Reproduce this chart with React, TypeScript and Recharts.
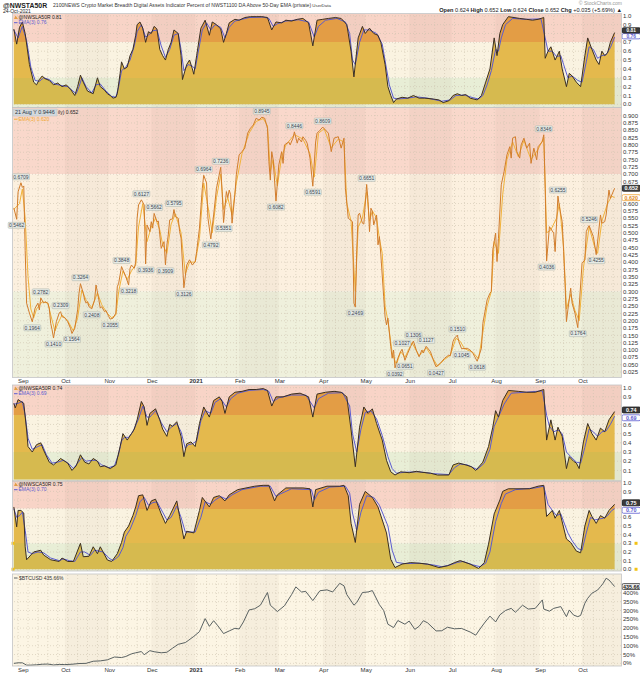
// App.tsx
import {
  ComposedChart,
  Area,
  Line,
  Scatter,
  XAxis,
  YAxis,
  ReferenceArea,
  ReferenceLine,
  ReferenceDot,
} from "recharts";

type Pt = [number, number];

const FONT = "'Liberation Sans', Arial, sans-serif";
// x values are days counted from 1 Sep 2020
const X_DOMAIN: [number, number] = [-6.6, 422.5];

const monthTicks: [string, number][] = [
  ["Sep", 0], ["Oct", 30], ["Nov", 61], ["Dec", 91], ["2021", 122], ["Feb", 153],
  ["Mar", 181], ["Apr", 212], ["May", 242], ["Jun", 273], ["Jul", 303],
  ["Aug", 334], ["Sep", 365], ["Oct", 395],
];

const breadthTicks = [0, 0.1, 0.2, 0.3, 0.4, 0.5, 0.6, 0.7, 0.8, 0.9, 1.0];
const taTicks = [
  0.025, 0.05, 0.075, 0.1, 0.125, 0.15, 0.175, 0.2, 0.225, 0.25, 0.275, 0.3,
  0.325, 0.35, 0.375, 0.4, 0.425, 0.45, 0.475, 0.5, 0.525, 0.55, 0.575, 0.6,
  0.625, 0.65, 0.675, 0.7, 0.725, 0.75, 0.775, 0.8, 0.825, 0.85, 0.875, 0.9,
];
const btcTicks = [0, 50, 100, 150, 200, 250, 300, 350, 400, 450];

// @NWSLA50R (top pane)
const la50: Pt[] = [
  [-6, 0.85], [-4, 0.68], [-2, 0.87], [0, 0.93], [2, 0.8], [5, 0.45], [8, 0.25], [10, 0.22],
  [12, 0.28], [14, 0.32], [16, 0.29], [19, 0.27], [22, 0.22], [25, 0.24], [28, 0.2], [31, 0.22],
  [34, 0.17], [37, 0.1], [39, 0.2], [41, 0.33], [43, 0.25], [46, 0.15], [50, 0.12], [53, 0.3],
  [55, 0.2], [58, 0.16], [60, 0.12], [62, 0.1], [64, 0.07], [66, 0.08], [67, 0.12], [69, 0.35],
  [70, 0.48], [72, 0.4], [74, 0.42], [76, 0.55], [78, 0.62], [80, 0.78], [81, 0.9], [83, 0.93],
  [85, 0.86], [87, 0.7], [89, 0.82], [91, 0.8], [93, 0.88], [95, 0.85], [97, 0.62], [99, 0.55],
  [101, 0.5], [103, 0.62], [105, 0.7], [107, 0.84], [110, 0.8], [112, 0.55], [113, 0.28],
  [116, 0.45], [118, 0.5], [120, 0.4], [121, 0.34], [123, 0.55], [126, 0.86], [129, 0.95],
  [132, 0.78], [134, 0.93], [137, 0.9], [140, 0.85], [142, 0.7], [144, 0.8], [146, 0.92],
  [150, 0.96], [153, 0.95], [157, 0.98], [161, 0.99], [165, 0.99], [169, 0.99], [173, 0.98],
  [176, 0.84], [179, 0.93], [183, 0.92], [186, 0.95], [190, 0.94], [194, 0.96], [198, 0.97],
  [202, 0.92], [205, 0.66], [208, 0.95], [212, 0.96], [216, 0.97], [221, 0.98], [225, 0.97],
  [229, 0.9], [232, 0.6], [234, 0.31], [237, 0.75], [240, 0.88], [242, 0.8], [245, 0.86],
  [248, 0.8], [251, 0.78], [253, 0.7], [256, 0.45], [258, 0.2], [260, 0.1], [262, 0.02],
  [264, 0.06], [268, 0.08], [272, 0.07], [276, 0.1], [280, 0.07], [284, 0.07], [290, 0.06],
  [294, 0.05], [297, 0.02], [301, 0.04], [304, 0.1], [307, 0.12], [310, 0.1], [313, 0.11],
  [316, 0.07], [321, 0.05], [324, 0.1], [327, 0.25], [330, 0.4], [333, 0.75], [335, 0.55],
  [337, 0.8], [339, 0.9], [343, 0.99], [347, 0.98], [351, 0.97], [356, 0.96], [360, 0.95],
  [364, 0.96], [368, 0.98], [369, 0.52], [371, 0.6], [373, 0.65], [376, 0.5], [379, 0.6],
  [381, 0.4], [384, 0.2], [386, 0.35], [388, 0.32], [391, 0.25], [394, 0.2], [397, 0.55],
  [399, 0.75], [402, 0.62], [405, 0.5], [407, 0.45], [409, 0.6], [411, 0.55], [413, 0.58],
  [415, 0.7], [418, 0.81],
];
const la50Ema: Pt[] = [
  [-6, 0.84], [-3, 0.75], [0, 0.88], [3, 0.72], [6, 0.42], [9, 0.27], [12, 0.26], [15, 0.3],
  [19, 0.28], [23, 0.23], [28, 0.21], [32, 0.2], [35, 0.16], [38, 0.12], [40, 0.2], [42, 0.3],
  [45, 0.2], [49, 0.13], [52, 0.22], [55, 0.23], [59, 0.15], [63, 0.09], [66, 0.08], [68, 0.2],
  [70, 0.38], [73, 0.42], [76, 0.5], [79, 0.66], [81, 0.82], [84, 0.9], [87, 0.76], [89, 0.78],
  [92, 0.83], [95, 0.84], [98, 0.66], [101, 0.53], [104, 0.62], [107, 0.78], [110, 0.8],
  [112, 0.62], [114, 0.38], [117, 0.45], [120, 0.43], [122, 0.4], [124, 0.58], [127, 0.84],
  [130, 0.92], [133, 0.84], [136, 0.9], [140, 0.87], [143, 0.75], [146, 0.87], [150, 0.94],
  [155, 0.96], [160, 0.98], [170, 0.985], [174, 0.97], [177, 0.88], [180, 0.91], [186, 0.94],
  [195, 0.955], [202, 0.93], [206, 0.76], [209, 0.88], [214, 0.95], [222, 0.97], [228, 0.93],
  [231, 0.8], [233, 0.5], [235, 0.45], [238, 0.7], [241, 0.84], [245, 0.84], [250, 0.8],
  [254, 0.68], [257, 0.4], [259, 0.22], [262, 0.07], [265, 0.06], [272, 0.07], [278, 0.085],
  [286, 0.07], [296, 0.035], [302, 0.05], [306, 0.1], [312, 0.105], [318, 0.075], [322, 0.06],
  [325, 0.1], [328, 0.22], [331, 0.38], [334, 0.62], [336, 0.6], [338, 0.75], [341, 0.9],
  [346, 0.97], [355, 0.96], [366, 0.965], [369, 0.75], [371, 0.6], [374, 0.6], [377, 0.54],
  [380, 0.55], [382, 0.45], [385, 0.3], [388, 0.32], [392, 0.27], [395, 0.25], [398, 0.48],
  [400, 0.65], [403, 0.62], [406, 0.52], [409, 0.55], [412, 0.56], [415, 0.64], [418, 0.76],
];

// @NWSTA50R (main pane)
const ta50: Pt[] = [
  [-6, 0.585], [-4, 0.5462], [-3, 0.64], [-1, 0.6709], [0, 0.655], [1, 0.66], [2, 0.44],
  [3, 0.26], [5, 0.226], [7, 0.1964], [9, 0.243], [11, 0.26], [12, 0.237], [13, 0.2782],
  [15, 0.26], [16, 0.265], [18, 0.26], [19, 0.243], [20, 0.191], [21, 0.169], [22, 0.141],
  [24, 0.197], [26, 0.226], [27, 0.2309], [28, 0.214], [30, 0.21], [31, 0.203], [32, 0.197],
  [34, 0.174], [35, 0.1564], [37, 0.174], [39, 0.237], [40, 0.294], [41, 0.3264], [43, 0.294],
  [44, 0.271], [45, 0.26], [46, 0.265], [47, 0.248], [49, 0.2408], [51, 0.271], [52, 0.322],
  [54, 0.271], [55, 0.243], [56, 0.248], [58, 0.231], [59, 0.235], [61, 0.214], [62, 0.2055],
  [64, 0.209], [66, 0.226], [67, 0.316], [68, 0.328], [70, 0.3848], [71, 0.373], [73, 0.351],
  [75, 0.3218], [76, 0.379], [77, 0.39], [79, 0.379], [80, 0.4], [81, 0.55], [82, 0.595],
  [84, 0.6127], [86, 0.595], [87, 0.3936], [88, 0.527], [90, 0.504], [91, 0.538], [92, 0.516],
  [93, 0.5662], [95, 0.538], [96, 0.54], [97, 0.493], [98, 0.447], [100, 0.47], [101, 0.3909],
  [102, 0.459], [103, 0.493], [104, 0.544], [106, 0.548], [107, 0.5795], [108, 0.555],
  [110, 0.55], [111, 0.504], [112, 0.482], [114, 0.3126], [116, 0.39], [118, 0.408],
  [120, 0.39], [122, 0.402], [123, 0.436], [125, 0.516], [127, 0.652], [128, 0.6964],
  [130, 0.67], [131, 0.55], [133, 0.4792], [135, 0.561], [137, 0.652], [140, 0.7236],
  [141, 0.641], [142, 0.5351], [144, 0.641], [145, 0.62], [146, 0.646], [147, 0.63],
  [148, 0.533], [150, 0.63], [151, 0.698], [153, 0.766], [155, 0.777], [157, 0.789],
  [159, 0.84], [161, 0.857], [163, 0.868], [165, 0.891], [167, 0.885], [169, 0.8945],
  [171, 0.891], [173, 0.857], [174, 0.743], [175, 0.68], [176, 0.777], [177, 0.75],
  [179, 0.6082], [181, 0.732], [183, 0.777], [184, 0.737], [185, 0.8], [188, 0.81], [189, 0.8],
  [191, 0.823], [192, 0.8446], [194, 0.806], [195, 0.823], [197, 0.81], [198, 0.828],
  [200, 0.815], [201, 0.806], [203, 0.755], [205, 0.6591], [207, 0.81], [208, 0.84], [210, 0.85],
  [212, 0.8609], [216, 0.84], [218, 0.777], [220, 0.823], [223, 0.828], [225, 0.789],
  [227, 0.823], [228, 0.652], [230, 0.55], [233, 0.538], [234, 0.26], [235, 0.2469], [236, 0.44],
  [237, 0.561], [238, 0.567], [240, 0.533], [241, 0.53], [243, 0.6651], [244, 0.607],
  [245, 0.504], [246, 0.584], [247, 0.574], [248, 0.527], [250, 0.561], [251, 0.459],
  [252, 0.487], [253, 0.425], [255, 0.282], [256, 0.214], [257, 0.186], [258, 0.209],
  [260, 0.112], [261, 0.072], [262, 0.1], [263, 0.0392], [265, 0.072], [267, 0.095],
  [268, 0.1027], [270, 0.0651], [272, 0.089], [274, 0.112], [276, 0.1306], [278, 0.1],
  [280, 0.077], [282, 0.1], [283, 0.09], [285, 0.1127], [288, 0.095], [290, 0.066],
  [292, 0.0427], [295, 0.055], [298, 0.072], [301, 0.083], [302, 0.08], [304, 0.13], [305, 0.14],
  [307, 0.151], [308, 0.13], [310, 0.1045], [314, 0.106], [316, 0.1], [318, 0.089],
  [321, 0.0618], [324, 0.106], [325, 0.191], [328, 0.271], [330, 0.294], [331, 0.3], [332, 0.442],
  [334, 0.499], [335, 0.402], [336, 0.48], [338, 0.664], [340, 0.709], [342, 0.766],
  [344, 0.794], [345, 0.755], [346, 0.823], [348, 0.828], [349, 0.777], [351, 0.755], [352, 0.8],
  [354, 0.823], [356, 0.789], [358, 0.806], [359, 0.737], [361, 0.789], [363, 0.749],
  [364, 0.794], [367, 0.811], [368, 0.8346], [369, 0.652], [370, 0.4036], [372, 0.521],
  [375, 0.499], [376, 0.436], [378, 0.6255], [379, 0.59], [381, 0.538], [382, 0.436],
  [383, 0.328], [384, 0.197], [385, 0.237], [387, 0.311], [388, 0.26], [390, 0.226],
  [392, 0.1764], [395, 0.396], [397, 0.408], [398, 0.504], [399, 0.516], [400, 0.5246],
  [403, 0.487], [405, 0.4255], [408, 0.561], [409, 0.533], [411, 0.538], [412, 0.561],
  [414, 0.646], [415, 0.618], [418, 0.652],
];
const ta50Ema: Pt[] = [
  [-6, 0.58], [-2, 0.6], [0, 0.65], [2, 0.55], [4, 0.35], [6, 0.24], [8, 0.21], [10, 0.24],
  [14, 0.265], [18, 0.26], [20, 0.22], [23, 0.165], [25, 0.19], [28, 0.22], [32, 0.2],
  [36, 0.165], [39, 0.21], [42, 0.305], [45, 0.27], [49, 0.245], [53, 0.295], [56, 0.255],
  [60, 0.225], [63, 0.21], [66, 0.22], [68, 0.3], [71, 0.37], [74, 0.34], [77, 0.37], [80, 0.39],
  [82, 0.52], [85, 0.6], [88, 0.47], [91, 0.52], [94, 0.55], [97, 0.51], [99, 0.46], [102, 0.43],
  [105, 0.53], [108, 0.565], [112, 0.5], [115, 0.36], [118, 0.4], [122, 0.4], [125, 0.48],
  [128, 0.67], [131, 0.59], [134, 0.5], [137, 0.62], [140, 0.7], [142, 0.58], [145, 0.62],
  [148, 0.56], [151, 0.67], [155, 0.77], [160, 0.84], [165, 0.88], [170, 0.89], [173, 0.865],
  [175, 0.71], [177, 0.75], [180, 0.66], [183, 0.76], [186, 0.8], [192, 0.835], [198, 0.82],
  [203, 0.77], [206, 0.69], [209, 0.84], [213, 0.855], [218, 0.79], [223, 0.82], [227, 0.81],
  [229, 0.6], [232, 0.54], [235, 0.3], [237, 0.52], [240, 0.55], [243, 0.64], [245, 0.54],
  [247, 0.575], [250, 0.55], [252, 0.48], [254, 0.43], [256, 0.25], [258, 0.2], [261, 0.09],
  [264, 0.05], [267, 0.095], [270, 0.075], [275, 0.125], [280, 0.08], [285, 0.108], [290, 0.07],
  [293, 0.045], [298, 0.068], [302, 0.082], [306, 0.14], [309, 0.13], [312, 0.105],
  [318, 0.092], [322, 0.07], [325, 0.16], [328, 0.25], [331, 0.3], [333, 0.47], [336, 0.43],
  [339, 0.63], [342, 0.75], [346, 0.81], [350, 0.76], [354, 0.815], [359, 0.75], [364, 0.785],
  [368, 0.825], [370, 0.5], [373, 0.51], [377, 0.55], [379, 0.6], [382, 0.45], [384, 0.24],
  [387, 0.29], [390, 0.235], [393, 0.2], [396, 0.38], [400, 0.52], [404, 0.45], [406, 0.43],
  [409, 0.54], [413, 0.6], [416, 0.625], [418, 0.62],
];
// annotated peaks (1) and troughs (-1)
const ta50Marks: [number, number, number][] = [
  [-1, 0.6709, 1], [-4, 0.5462, -1], [13, 0.2782, 1], [7, 0.1964, -1], [27, 0.2309, 1],
  [22, 0.141, -1], [35, 0.1564, -1], [41, 0.3264, 1], [49, 0.2408, -1], [62, 0.2055, -1],
  [70, 0.3848, 1], [75, 0.3218, -1], [84, 0.6127, 1], [87, 0.3936, -1], [93, 0.5662, 1],
  [101, 0.3909, -1], [107, 0.5795, 1], [114, 0.3126, -1], [128, 0.6964, 1], [133, 0.4792, -1],
  [140, 0.7236, 1], [142, 0.5351, -1], [169, 0.8945, 1], [179, 0.6082, -1], [192, 0.8446, 1],
  [205, 0.6591, -1], [212, 0.8609, 1], [235, 0.2469, -1], [243, 0.6651, 1], [263, 0.0392, -1],
  [268, 0.1027, 1], [270, 0.0651, -1], [276, 0.1306, 1], [285, 0.1127, 1], [292, 0.0427, -1],
  [307, 0.151, 1], [310, 0.1045, -1], [321, 0.0618, -1], [368, 0.8346, 1], [370, 0.4036, -1],
  [378, 0.6255, 1], [392, 0.1764, -1], [400, 0.5246, 1], [405, 0.4255, -1],
];

// @NWSEA50R
const ea50: Pt[] = [
  [-6, 0.83], [-5, 0.78], [-3, 0.87], [-1, 0.85], [1, 0.83], [3, 0.54], [4, 0.36], [7, 0.3],
  [10, 0.38], [13, 0.4], [15, 0.32], [19, 0.19], [22, 0.16], [25, 0.2], [27, 0.23], [30, 0.2],
  [32, 0.18], [35, 0.1], [38, 0.15], [41, 0.27], [44, 0.19], [47, 0.17], [50, 0.23], [53, 0.2],
  [55, 0.14], [58, 0.15], [62, 0.12], [66, 0.16], [69, 0.36], [71, 0.5], [74, 0.43], [77, 0.5],
  [79, 0.55], [81, 0.65], [84, 0.85], [86, 0.79], [88, 0.59], [90, 0.72], [94, 0.77], [97, 0.65],
  [99, 0.55], [102, 0.47], [104, 0.6], [106, 0.58], [109, 0.63], [112, 0.47], [114, 0.25],
  [116, 0.39], [119, 0.41], [122, 0.36], [125, 0.61], [128, 0.79], [132, 0.68], [135, 0.86],
  [139, 0.9], [141, 0.85], [143, 0.72], [146, 0.9], [150, 0.95], [155, 0.96], [160, 0.98],
  [165, 0.98], [170, 0.99], [173, 0.97], [176, 0.8], [179, 0.9], [184, 0.9], [190, 0.93],
  [196, 0.94], [202, 0.9], [205, 0.68], [208, 0.93], [214, 0.95], [220, 0.96], [225, 0.95],
  [229, 0.9], [232, 0.54], [235, 0.14], [238, 0.57], [241, 0.79], [244, 0.72], [247, 0.77],
  [250, 0.61], [254, 0.43], [257, 0.21], [260, 0.085], [263, 0.05], [267, 0.085], [273, 0.075],
  [278, 0.09], [282, 0.08], [288, 0.07], [293, 0.05], [301, 0.05], [304, 0.16], [308, 0.18],
  [313, 0.16], [317, 0.14], [320, 0.1], [325, 0.19], [329, 0.36], [332, 0.57], [334, 0.75],
  [336, 0.68], [339, 0.86], [343, 0.97], [350, 0.96], [356, 0.95], [362, 0.95], [368, 0.98],
  [370, 0.43], [373, 0.65], [376, 0.43], [378, 0.57], [381, 0.47], [384, 0.12], [386, 0.25],
  [389, 0.2], [391, 0.18], [393, 0.12], [396, 0.41], [399, 0.61], [402, 0.5], [405, 0.43],
  [408, 0.56], [411, 0.52], [414, 0.65], [418, 0.74],
];
const ea50Ema: Pt[] = [
  [-6, 0.82], [-3, 0.83], [0, 0.85], [2, 0.7], [4, 0.45], [7, 0.33], [11, 0.36], [14, 0.38],
  [17, 0.27], [21, 0.18], [25, 0.19], [29, 0.21], [33, 0.17], [36, 0.12], [39, 0.18], [42, 0.24],
  [45, 0.2], [49, 0.21], [52, 0.21], [56, 0.16], [61, 0.13], [65, 0.15], [68, 0.28], [70, 0.42],
  [72, 0.46], [75, 0.46], [78, 0.52], [82, 0.66], [85, 0.8], [88, 0.68], [90, 0.68], [94, 0.75],
  [98, 0.62], [102, 0.52], [105, 0.57], [109, 0.61], [112, 0.52], [115, 0.34], [117, 0.38],
  [120, 0.39], [123, 0.42], [126, 0.64], [129, 0.75], [133, 0.72], [136, 0.84], [140, 0.88],
  [144, 0.79], [147, 0.88], [152, 0.94], [160, 0.97], [170, 0.98], [174, 0.96], [177, 0.85],
  [181, 0.89], [190, 0.92], [200, 0.92], [206, 0.78], [209, 0.88], [216, 0.94], [226, 0.945],
  [231, 0.8], [233, 0.5], [236, 0.3], [239, 0.55], [242, 0.73], [246, 0.75], [250, 0.66],
  [254, 0.48], [258, 0.25], [261, 0.12], [264, 0.07], [270, 0.08], [280, 0.085], [290, 0.065],
  [301, 0.055], [305, 0.13], [309, 0.17], [314, 0.16], [321, 0.11], [326, 0.18], [330, 0.33],
  [333, 0.58], [336, 0.68], [340, 0.82], [345, 0.94], [355, 0.95], [367, 0.965], [370, 0.7],
  [372, 0.58], [375, 0.52], [378, 0.54], [381, 0.5], [384, 0.3], [387, 0.25], [391, 0.19],
  [394, 0.18], [397, 0.35], [400, 0.55], [403, 0.52], [406, 0.47], [409, 0.52], [412, 0.53],
  [415, 0.6], [418, 0.69],
];

// @NWSCA50R
const ca50: Pt[] = [
  [-6, 0.72], [-4, 0.49], [-3, 0.68], [-1, 0.68], [1, 0.65], [2, 0.26], [3, 0.11], [6, 0.165],
  [8, 0.2], [13, 0.22], [15, 0.165], [20, 0.11], [26, 0.09], [28, 0.13], [32, 0.09], [36, 0.09],
  [41, 0.3], [43, 0.145], [47, 0.15], [50, 0.26], [53, 0.18], [55, 0.26], [60, 0.107], [63, 0.09],
  [67, 0.18], [70, 0.31], [72, 0.43], [75, 0.5], [78, 0.62], [80, 0.72], [82, 0.85], [85, 0.86],
  [88, 0.68], [91, 0.79], [94, 0.81], [98, 0.64], [101, 0.53], [104, 0.62], [109, 0.79],
  [111, 0.61], [114, 0.35], [116, 0.44], [121, 0.42], [125, 0.68], [127, 0.83], [132, 0.72],
  [135, 0.83], [139, 0.85], [143, 0.79], [146, 0.86], [152, 0.92], [164, 0.96], [170, 0.97],
  [174, 0.97], [178, 0.79], [180, 0.86], [186, 0.94], [198, 0.94], [203, 0.93], [205, 0.72],
  [207, 0.92], [215, 0.96], [224, 0.96], [227, 0.97], [230, 0.85], [232, 0.53], [235, 0.31],
  [238, 0.75], [242, 0.9], [247, 0.83], [251, 0.72], [257, 0.42], [260, 0.115], [263, 0.02],
  [268, 0.06], [274, 0.077], [280, 0.07], [286, 0.06], [294, 0.02], [300, 0.04], [305, 0.077],
  [309, 0.1], [316, 0.06], [322, 0.01], [326, 0.077], [329, 0.29], [333, 0.64], [337, 0.8],
  [339, 0.9], [343, 0.93], [358, 0.93], [364, 0.96], [368, 0.97], [370, 0.61], [374, 0.68],
  [376, 0.59], [379, 0.68], [384, 0.35], [387, 0.31], [391, 0.21], [394, 0.19], [397, 0.5],
  [400, 0.68], [402, 0.61], [405, 0.53], [408, 0.62], [411, 0.59], [414, 0.68], [418, 0.75],
];
const ca50Ema: Pt[] = [
  [-6, 0.7], [-4, 0.6], [-2, 0.62], [0, 0.66], [2, 0.45], [4, 0.2], [7, 0.18], [11, 0.2],
  [15, 0.19], [20, 0.13], [26, 0.1], [29, 0.12], [33, 0.1], [37, 0.09], [41, 0.2], [44, 0.2],
  [48, 0.16], [51, 0.22], [54, 0.21], [57, 0.2], [61, 0.13], [64, 0.1], [68, 0.15], [71, 0.25],
  [73, 0.38], [76, 0.46], [80, 0.62], [83, 0.78], [86, 0.83], [89, 0.74], [92, 0.77], [95, 0.78],
  [99, 0.66], [102, 0.57], [105, 0.6], [109, 0.73], [112, 0.6], [115, 0.43], [118, 0.43],
  [122, 0.43], [126, 0.6], [129, 0.78], [133, 0.75], [136, 0.8], [140, 0.84], [144, 0.81],
  [148, 0.86], [155, 0.92], [168, 0.96], [175, 0.96], [179, 0.84], [182, 0.87], [190, 0.93],
  [204, 0.92], [206, 0.8], [209, 0.89], [217, 0.95], [228, 0.96], [231, 0.88], [233, 0.65],
  [236, 0.45], [239, 0.66], [243, 0.85], [248, 0.83], [252, 0.74], [258, 0.5], [261, 0.22],
  [264, 0.08], [270, 0.065], [280, 0.07], [290, 0.05], [296, 0.03], [302, 0.05], [307, 0.08],
  [311, 0.09], [318, 0.05], [323, 0.03], [327, 0.07], [330, 0.2], [334, 0.55], [338, 0.76],
  [341, 0.87], [348, 0.92], [362, 0.94], [368, 0.96], [371, 0.75], [374, 0.68], [377, 0.62],
  [380, 0.64], [385, 0.42], [388, 0.33], [392, 0.24], [395, 0.22], [398, 0.42], [401, 0.6],
  [404, 0.57], [407, 0.58], [410, 0.59], [413, 0.62], [416, 0.68], [418, 0.7],
];
const caAlerts = [0.3, 0.0];

// $BTCUSD, % change since start
const btcPct: Pt[] = [
  [-6, 0], [-3, 3], [0, 3], [3, -10], [6, -10], [10, -8], [14, -5], [18, -4], [22, -9], [26, -6],
  [30, -7], [35, -5], [40, -1], [45, 0], [50, 12], [55, 14], [60, 20], [65, 36], [70, 33],
  [73, 39], [77, 54], [80, 60], [84, 67], [86, 49], [90, 72], [93, 66], [98, 60], [102, 63],
  [106, 86], [110, 108], [115, 118], [117, 129], [121, 153], [125, 180], [129, 254], [132, 210],
  [135, 242], [138, 213], [142, 169], [146, 184], [150, 199], [153, 195], [156, 235], [160, 303],
  [164, 310], [168, 330], [173, 402], [175, 330], [180, 294], [185, 327], [190, 390], [193, 434],
  [197, 405], [200, 408], [205, 356], [210, 412], [215, 417], [219, 405], [224, 454], [227, 440],
  [229, 390], [234, 330], [236, 345], [240, 402], [244, 405], [247, 413], [252, 333], [255, 300],
  [258, 222], [262, 203], [265, 243], [270, 222], [273, 240], [277, 193], [280, 210], [283, 242],
  [286, 230], [292, 184], [296, 185], [300, 205], [305, 196], [310, 198], [316, 178], [320, 160],
  [323, 195], [326, 228], [330, 268], [334, 235], [337, 275], [341, 300], [345, 312], [348, 290],
  [353, 330], [357, 308], [362, 312], [367, 360], [368, 308], [372, 296], [375, 312], [378, 318],
  [380, 322], [382, 293], [384, 265], [386, 303], [389, 274], [392, 265], [394, 272], [397, 341],
  [399, 369], [402, 398], [404, 407], [406, 416], [408, 435], [410, 455], [412, 483], [414, 473],
  [416, 455], [418, 435.66],
];

const BANDS = { pink: "#f8d4c7", cream: "#faf3e1", green: "#e8eed6" };
const TA_BANDS = { pink: "#f9d8cb", cream: "#fcf0df", green: "#eff0dc" };
const TICK = { fontSize: 6, fill: "#333", fontFamily: FONT };

const monthLabel = new Map(monthTicks.map(([l, d]) => [d, l]));
const stripes: [number, number][] = monthTicks
  .map(([, d], i) => [d, i + 1 < monthTicks.length ? monthTicks[i + 1][1] : X_DOMAIN[1]] as [number, number])
  .filter((_, i) => i % 2 === 1);
const weekDays = Array.from({ length: 62 }, (_, i) => -3 + i * 7);

function merge(cols: Record<string, Pt[]>) {
  const rows = new Map<number, any>();
  for (const [key, pts] of Object.entries(cols)) {
    for (const [d, v] of pts) {
      const row = rows.get(d) ?? { d };
      row[key] = v;
      rows.set(d, row);
    }
  }
  return [...rows.values()].sort((a, b) => a.d - b.d);
}

// tick labels that sit under the last-value tags are left blank
const fmt = (digits: number, hidden: number[], suffix = "") => (v: number) =>
  hidden.some((h) => Math.abs(h - v) < 1e-6) ? "" : `${suffix ? v : v.toFixed(digits)}${suffix}`;

function backdrop(bands: [number, number, string][], hLines: number[]) {
  return [
    ...bands.map(([a, b, c], i) => (
      <ReferenceArea key={`b${i}`} x1={X_DOMAIN[0]} x2={X_DOMAIN[1]} y1={a} y2={b} fill={c}
        fillOpacity={1} stroke="none" ifOverflow="hidden" zIndex={-60} />
    )),
    ...stripes.map(([a, b], i) => (
      <ReferenceArea key={`s${i}`} x1={a} x2={b} fill="#6e5a3c" fillOpacity={0.045}
        stroke="none" ifOverflow="hidden" zIndex={-59} />
    )),
    ...weekDays.map((d) => (
      <ReferenceLine key={`v${d}`} x={d} stroke="#cdc2ae" strokeDasharray="1 2"
        strokeWidth={0.6} ifOverflow="hidden" zIndex={-58} />
    )),
    ...hLines.map((t) => (
      <ReferenceLine key={`h${t}`} y={t} stroke="#cdc2ae" strokeDasharray="1 2"
        strokeWidth={0.6} ifOverflow="hidden" zIndex={-58} />
    )),
  ];
}

// last-value tag on the right axis; dy nudges it off its neighbour
const tag = (text: string, fill: string, stroke: string, color: string, dy = 0, fs = 5.4) => (p: any) => (
  <g>
    <rect x={p.cx + 1} y={p.cy + dy - fs * 0.55} width={18.5} height={fs * 1.1} rx={1.5} fill={fill}
      stroke={stroke} strokeWidth={0.8} />
    <text x={p.cx + 10.2} y={p.cy + dy + fs * 0.36} textAnchor="middle" fontSize={fs} fontWeight="bold"
      fontFamily={FONT} fill={color}>{text}</text>
  </g>
);

const MonthTick = (p: any) => {
  const label = monthLabel.get(p.payload.value);
  return (
    <text x={p.x + 1} y={p.y + 6} textAnchor="middle" fontSize={6} fontFamily={FONT} fill="#333"
      fontWeight={label === "2021" ? "bold" : "normal"}>{label}</text>
  );
};

const MarkLabel = (p: any) => {
  const up = p.payload.a > 0;
  const yc = p.cy + (up ? -6 : 6);
  return (
    <g>
      <rect x={p.cx - 8.5} y={yc - 3} width={17} height={6} rx={0.8} fill="#e6eae4"
        stroke="#a9b0a8" strokeWidth={0.5} />
      <text x={p.cx} y={yc + 1.8} textAnchor="middle" fontSize={5} fontFamily={FONT}
        fill="#3a4450">{p.payload.v.toFixed(4)}</text>
    </g>
  );
};

function BreadthPanel(props: {
  id: string; top: number; height: number; domain: [number, number]; ticks: number[];
  hidden: number[]; tagDy: [number, number, number]; main: Pt[]; ema: Pt[]; alerts?: number[];
}) {
  const { id, top, height, domain, ticks, hidden, tagDy, main, ema, alerts } = props;
  const [lo, hi] = domain;
  const data = merge({ m: main, e: ema });
  const o7 = (hi - 0.7) / (hi - lo);
  const o3 = (hi - 0.3) / (hi - lo);
  const lastM = main[main.length - 1][1];
  const lastE = ema[ema.length - 1][1];
  const [dyM, dyE, fs] = tagDy;
  return (
    <div style={{ position: "absolute", left: 0, top }}>
      <ComposedChart width={640} height={height} data={data}
        margin={{ top: 0, right: 0, bottom: 0, left: 13 }}>
        <defs>
          <linearGradient id={id} gradientUnits="userSpaceOnUse" x1="0" y1="0" x2="0" y2={height}>
            <stop offset={o7} stopColor="#e39d45" />
            <stop offset={o7} stopColor="#e4b94d" />
            <stop offset={o3} stopColor="#e4b94d" />
            <stop offset={o3} stopColor="#d6ba4f" />
          </linearGradient>
        </defs>
        <XAxis type="number" dataKey="d" domain={X_DOMAIN} allowDataOverflow hide />
        <YAxis orientation="right" type="number" domain={domain} allowDataOverflow ticks={ticks}
          interval={0} width={19} tickSize={0} tickMargin={2} axisLine={false} tickLine={false}
          tick={TICK} tickFormatter={fmt(1, hidden)} />
        {backdrop([[0.7, hi, BANDS.pink], [0.3, 0.7, BANDS.cream], [lo, 0.3, BANDS.green]], ticks)}
        <Area type="linear" dataKey="m" fill={`url(#${id})`} fillOpacity={1} stroke="none"
          baseValue={0} connectNulls isAnimationActive={false} />
        <Line type="linear" dataKey="e" stroke="#5b5bd0" strokeWidth={1} dot={false}
          activeDot={false} connectNulls isAnimationActive={false} />
        <Line type="linear" dataKey="m" stroke="#3a2e22" strokeWidth={1} dot={false}
          activeDot={false} connectNulls isAnimationActive={false} />
        <ReferenceDot x={X_DOMAIN[1]} y={lastE} ifOverflow="visible" zIndex={3000}
          shape={tag(lastE.toFixed(2), "#fff", "#5b5bd0", "#5b5bd0", dyE, fs)} />
        <ReferenceDot x={X_DOMAIN[1]} y={lastM} ifOverflow="visible" zIndex={3001}
          shape={tag(lastM.toFixed(2), "#3a3a3a", "#222", "#fff", dyM, fs)} />
        {(alerts ?? []).flatMap((a) => [
          <ReferenceDot key={`l${a}`} x={X_DOMAIN[0]} y={a} ifOverflow="visible" zIndex={3000}
            shape={(p: any) => <rect x={p.cx - 1.5} y={p.cy - 1.5} width={3} height={3} fill="#f2c215" />} />,
          <ReferenceDot key={`r${a}`} x={X_DOMAIN[1] + 10.6} y={a} ifOverflow="visible" zIndex={3000}
            shape={(p: any) => <rect x={p.cx - 1.5} y={p.cy - 1.5} width={3} height={3} fill="#f2c215" />} />,
        ])}
      </ComposedChart>
    </div>
  );
}

function MainPanel() {
  const domain: [number, number] = [0.008, 0.926];
  const data = merge({ m: ta50, e: ta50Ema });
  const marks = ta50Marks.map(([d, v, a]) => ({ d, v, a }));
  const lastM = ta50[ta50.length - 1][1];
  const lastE = ta50Ema[ta50Ema.length - 1][1];
  return (
    <div style={{ position: "absolute", left: 0, top: 108 }}>
      <ComposedChart width={640} height={277} data={data}
        margin={{ top: 0, right: 0, bottom: 0, left: 13 }}>
        <XAxis type="number" dataKey="d" domain={X_DOMAIN}
          ticks={monthTicks.map(([, d]) => d)} interval={0} height={8} tickSize={0} tickMargin={0}
          axisLine={false} tickLine={false} tick={<MonthTick />} />
        <YAxis orientation="right" type="number" dataKey="v" domain={domain} allowDataOverflow
          ticks={taTicks} interval={0} width={19} tickSize={0} tickMargin={2} axisLine={false}
          tickLine={false} tick={TICK} tickFormatter={fmt(3, [0.625, 0.65])} />
        {backdrop([[0.7, 0.926, TA_BANDS.pink], [0.3, 0.7, TA_BANDS.cream], [0.008, 0.3, TA_BANDS.green]], taTicks)}
        <Line type="linear" dataKey="e" stroke="#f2b33a" strokeWidth={1} dot={false}
          activeDot={false} connectNulls isAnimationActive={false} />
        <Line type="linear" dataKey="m" stroke="#d27d2c" strokeWidth={1} dot={false}
          activeDot={false} connectNulls isAnimationActive={false} />
        <Scatter data={marks} dataKey="v" shape={<MarkLabel />} isAnimationActive={false} />
        <ReferenceDot x={X_DOMAIN[1]} y={lastE} ifOverflow="visible" zIndex={3000}
          shape={tag(lastE.toFixed(3), "#fff", "#f0a030", "#e08a20")} />
        <ReferenceDot x={X_DOMAIN[1]} y={lastM} ifOverflow="visible" zIndex={3001}
          shape={tag(lastM.toFixed(3), "#444", "#222", "#fff")} />
      </ComposedChart>
    </div>
  );
}

function BtcPanel() {
  const domain: [number, number] = [-15, 507];
  const data = merge({ b: btcPct });
  const last = btcPct[btcPct.length - 1][1];
  return (
    <div style={{ position: "absolute", left: 0, top: 574 }}>
      <ComposedChart width={640} height={102} data={data}
        margin={{ top: 0, right: 0, bottom: 0, left: 13 }}>
        <XAxis type="number" dataKey="d" domain={X_DOMAIN} allowDataOverflow
          ticks={monthTicks.map(([, d]) => d)} interval={0} height={10} tickSize={0} tickMargin={0}
          axisLine={false} tickLine={false} tick={<MonthTick />} />
        <YAxis orientation="right" type="number" domain={domain} allowDataOverflow ticks={btcTicks}
          interval={0} width={19} tickSize={0} tickMargin={2} axisLine={false} tickLine={false}
          tick={TICK} tickFormatter={fmt(0, [450], "%")} />
        {backdrop([[-15, 507, "#fcf5e4"]], btcTicks)}
        <Line type="linear" dataKey="b" stroke="#5a6262" strokeWidth={1} dot={false}
          activeDot={false} connectNulls isAnimationActive={false} />
        <ReferenceDot x={X_DOMAIN[1]} y={last} ifOverflow="visible" zIndex={3000}
          shape={tag(last.toFixed(2), "#eee", "#333", "#222")} />
      </ComposedChart>
    </div>
  );
}

function Legend({ x, y, name, value, ema, emaColor }: any) {
  return (
    <g fontFamily={FONT} fontSize={5}>
      <polygon points={`${x},${y} ${x + 1.5},${y - 3.5} ${x + 3},${y - 1.5} ${x + 4},${y}`} fill="#e39d45" />
      <text x={x + 4.5} y={y} fill="#222">{name} {value}</text>
      <rect x={x} y={y + 3.2} width={3.5} height={1} fill={emaColor} />
      <text x={x + 4.5} y={y + 5} fill={emaColor}>{ema}</text>
    </g>
  );
}

export default function App() {
  return (
    <div style={{ position: "absolute", left: 0, top: 0, width: 640, height: 676, background: "#fff", overflow: "hidden" }}>
      <BreadthPanel id="gLA" top={14} height={93} domain={[-0.03, 1.02]} ticks={breadthTicks}
        hidden={[0.8]} tagDy={[-2.2, -0.8, 4.8]} main={la50} ema={la50Ema} />
      <MainPanel />
      <BreadthPanel id="gEA" top={385} height={96} domain={[-0.015, 1.029]} ticks={breadthTicks.slice(1)}
        hidden={[0.7, 0.8]} tagDy={[-1.6, 1.6, 5.4]} main={ea50} ema={ea50Ema} />
      <BreadthPanel id="gCA" top={481} height={90} domain={[-0.02, 1.02]} ticks={breadthTicks}
        hidden={[0.7, 0.8]} tagDy={[-1.6, 1.6, 5.4]} main={ca50} ema={ca50Ema} alerts={caAlerts} />
      <BtcPanel />
      <svg width={640} height={676} style={{ position: "absolute", left: 0, top: 0, pointerEvents: "none" }}>
        <g fill="none" stroke="#c3c3c3" strokeWidth={0.8}>
          <rect x={12.5} y={13.5} width={609} height={94} />
          <rect x={12.5} y={107.5} width={609} height={270} />
          <rect x={12.5} y={385} width={609} height={96} />
          <rect x={12.5} y={481} width={609} height={90} />
          <rect x={12.5} y={574} width={609} height={92} />
        </g>
        <g fontFamily={FONT} fill="#222">
          <text x={3} y={7.5} fontSize={6.9} fontWeight="bold">@NWSTA50R</text>
          <text x={53} y={7} fontSize={5.1} fill="#333">
            2100NEWS Crypto Market Breadth Digital Assets Indicator Percent of NWST1100 DA Above 50-Day EMA (private)
            <tspan fontSize={4.4}> UserData</tspan>
          </text>
          <text x={3} y={13} fontSize={5}>24-Oct-2021</text>
          <text x={622} y={5} fontSize={5} fill="#999" textAnchor="end">© StockCharts.com</text>
          <text x={622} y={12} fontSize={5.6} textAnchor="end">
            <tspan fontWeight="bold">Open</tspan> 0.624 <tspan fontWeight="bold">High</tspan> 0.652{" "}
            <tspan fontWeight="bold">Low</tspan> 0.624 <tspan fontWeight="bold">Close</tspan> 0.652{" "}
            <tspan fontWeight="bold">Chg</tspan> +0.035 (+5.69%) ▲
          </text>
        </g>
        <Legend x={14} y={19} name="@NWSLA50R" value="0.81" ema="EMA(3) 0.76" emaColor="#5b5bd0" />
        <g fontFamily={FONT} fontSize={5}>
          <rect x={13} y={109} width={44} height={7} fill="#d3d9dd" stroke="#b5bcc2" strokeWidth={0.4} />
          <text x={15} y={114.3} fill="#2a3440" fontSize={5.4}>21 Aug Y 0.9446</text>
          <text x={58} y={114.3} fill="#222">ily) 0.652</text>
          <rect x={14} y={118.7} width={3.5} height={1} fill="#f2b33a" />
          <text x={18.5} y={120.5} fill="#f0a830">EMA(3) 0.620</text>
        </g>
        <Legend x={14} y={390} name="@NWSEA50R" value="0.74" ema="EMA(3) 0.69" emaColor="#5b5bd0" />
        <Legend x={14} y={486} name="@NWSCA50R" value="0.75" ema="EMA(3) 0.70" emaColor="#5b5bd0" />
        <g fontFamily={FONT} fontSize={5}>
          <rect x={14} y={577.5} width={3.5} height={1} fill="#5a6262" />
          <text x={19} y={579.8} fill="#333">$BTCUSD 435.66%</text>
        </g>
      </svg>
    </div>
  );
}
